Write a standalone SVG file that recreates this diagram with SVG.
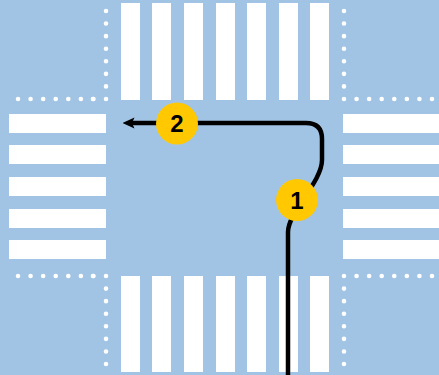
<svg xmlns="http://www.w3.org/2000/svg" width="439" height="375" viewBox="0 0 439 375">
<defs>
<style>
.st{fill:#ffffff}
.dot{fill:none;stroke:#ffffff;stroke-width:4.6;stroke-linecap:round;stroke-dasharray:0 12.57}
.route{fill:none;stroke:#000000;stroke-width:4.5;stroke-linejoin:round}
.badge{fill:#ffc800}
.num{font-family:"Liberation Sans",Arial,sans-serif;font-weight:bold;font-size:24px;fill:#000000;text-anchor:middle}
</style>
<marker id="ah" viewBox="0 0 12 12" refX="2.5" refY="6" markerWidth="12" markerHeight="12" markerUnits="userSpaceOnUse" orient="auto">
<path d="M0,0.5 L12,6 L0,11.5 L2.5,6 Z" fill="#000"/>
</marker>
</defs>
<rect x="0" y="0" width="439" height="375" fill="#a2c4e4"/>
<g id="crosswalk-top">
<rect class="st" x="121" y="3" width="19" height="97"/>
<rect class="st" x="152" y="3" width="19" height="97"/>
<rect class="st" x="184" y="3" width="19" height="97"/>
<rect class="st" x="216" y="3" width="19" height="97"/>
<rect class="st" x="247" y="3" width="19" height="97"/>
<rect class="st" x="279" y="3" width="19" height="97"/>
<rect class="st" x="310" y="3" width="19" height="97"/>
</g>
<g id="crosswalk-bottom">
<rect class="st" x="121" y="276" width="19" height="96"/>
<rect class="st" x="152" y="276" width="19" height="96"/>
<rect class="st" x="184" y="276" width="19" height="96"/>
<rect class="st" x="216" y="276" width="19" height="96"/>
<rect class="st" x="247" y="276" width="19" height="96"/>
<rect class="st" x="279" y="276" width="19" height="96"/>
<rect class="st" x="310" y="276" width="19" height="96"/>
</g>
<g id="crosswalk-left">
<rect class="st" x="9" y="114" width="97" height="19"/>
<rect class="st" x="9" y="145" width="97" height="19"/>
<rect class="st" x="9" y="177" width="97" height="19"/>
<rect class="st" x="9" y="209" width="97" height="19"/>
<rect class="st" x="9" y="240" width="97" height="19"/>
</g>
<g id="crosswalk-right">
<rect class="st" x="343" y="114" width="96" height="19"/>
<rect class="st" x="343" y="145" width="96" height="19"/>
<rect class="st" x="343" y="177" width="96" height="19"/>
<rect class="st" x="343" y="209" width="96" height="19"/>
<rect class="st" x="343" y="240" width="96" height="19"/>
</g>
<g id="curbs">
<path class="dot" d="M106,11 V99 H18"/>
<path class="dot" d="M93,99 H94"/>
<path class="dot" d="M344,11 V99 H432"/>
<path class="dot" d="M106,364 V276 H18"/>
<path class="dot" d="M93,276 H94"/>
<path class="dot" d="M344,364 V276 H432"/>
</g>
<g id="connectors">
<path class="route" d="M288,375 L288,232 C288,212 322,182 322,160 L322,139 Q322,123 306,123 L132,123" marker-end="url(#ah)"/>
</g>
<g id="node-1">
<circle class="badge" cx="297" cy="200" r="21"/>
<text class="num" x="297" y="208.5">1</text>
</g>
<g id="node-2">
<circle class="badge" cx="177" cy="123.5" r="21"/>
<text class="num" x="177" y="132">2</text>
</g>
</svg>
